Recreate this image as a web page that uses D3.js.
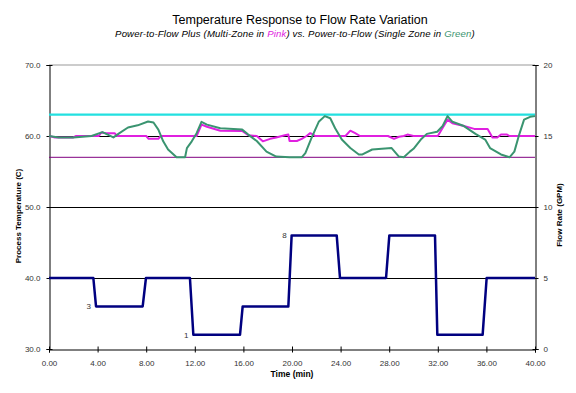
<!DOCTYPE html>
<html><head><meta charset="utf-8">
<script src="https://cdn.jsdelivr.net/npm/d3@7"></script>
<style>body{margin:0;background:#fff}svg{display:block;font-family:Arial,"Liberation Sans",sans-serif}</style>
</head><body>
<svg id="c" width="576" height="393"></svg>
<script>
const xTicks = [0,4,8,12,16,20,24,28,32,36,40];
const tempTicks = [30,40,50,60,70];
const flowTicks = [0,5,10,15,20];
const gridTemps = [40,50,60];
const upperLimit = 63;
const lowerLimit = 57;

const pinkTime = [0,0.5,2.0,2.2,4.1,4.3,4.7,5.4,5.6,8.0,8.2,9.0,9.2,12.15,12.55,13.0,14.1,15.9,16.4,17.1,17.6,18.2,18.7,19.4,19.7,19.8,20.4,20.8,21.2,21.5,21.75,21.9,24.4,24.8,25.2,25.6,27.9,28.4,28.8,29.2,29.5,30.0,32.0,32.8,33.2,34.15,35.0,36.1,36.5,36.9,37.2,37.7,37.9,40];
const pinkTemp = [60,59.8,59.8,60,60,60.5,60.4,60.4,60,60,59.6,59.6,60,60,61.6,61.3,60.75,60.7,60.1,60,59.25,59.6,59.8,60.1,60.2,59.3,59.3,59.6,60,60.4,60.2,60,60,60.75,60.4,60,60,59.6,59.9,60,60.2,60,60,62.3,61.8,61.4,61.0,61.0,59.8,59.8,60.2,60.2,60,60];

const greenTime = [0,0.8,2.0,3.5,4.4,5.3,5.8,6.5,7.3,8.15,8.6,9.0,9.4,9.8,10.5,11.2,11.35,11.75,12.15,12.55,13.0,14.1,15.9,16.4,17.1,17.9,18.7,19.8,20.8,21.1,21.6,22.2,22.7,23.15,23.55,24.1,24.8,25.5,25.8,26.6,28.2,28.8,29.2,29.7,30.0,30.6,31.1,31.95,32.4,32.8,33.2,34.15,35.1,35.9,36.3,37.2,37.9,38.3,38.7,39.1,39.6,40];
const greenTemp = [60,59.8,59.8,60,60.55,59.8,60.4,61.2,61.5,62.05,61.9,60.9,59.25,58.1,57.0,57.0,58.3,59.25,60.4,62.0,61.6,61.1,60.9,60.2,59.3,57.8,57.1,57.0,57.0,57.6,59.7,62.0,62.8,62.5,61.1,59.5,58.3,57.4,57.4,58.1,58.3,57.1,57.0,57.8,58.2,59.5,60.3,60.6,61.4,62.8,62.0,61.4,60.3,59.5,58.3,57.4,57.0,57.8,60.2,62.3,62.7,62.8];

const flowTime = [0,3.65,3.87,7.71,7.98,11.6,11.88,15.72,15.94,19.7,19.97,23.68,23.95,27.74,28.01,31.77,31.96,35.69,36.02,40];
const flowRate = [5,5,3,3,5,5,1,1,3,3,8,8,5,5,8,8,1,1,5,5];
const flowLabelIdx = [2,6,10];

const svg = d3.select('#c');
const L = 49, R = 535, T = 65, B = 349;
const x = d3.scaleLinear().domain([0,40]).range([L,R]);
const y = d3.scaleLinear().domain([30,70]).range([B,T]);
const y2 = d3.scaleLinear().domain([0,20]).range([B,T]);

svg.append('line').attr('x1',L).attr('x2',R).attr('y1',y(70)).attr('y2',y(70)).attr('stroke','#999').attr('stroke-width',1);
svg.selectAll('.g').data(gridTemps).enter().append('line')
  .attr('x1',L).attr('x2',R).attr('y1',d=>Math.round(y(d))+0.5).attr('y2',d=>Math.round(y(d))+0.5)
  .attr('stroke','#000').attr('stroke-width',1);

const fmt2 = d3.format('.2f'), fmt1 = d3.format('.1f');
const xAxis = svg.append('g').attr('transform',`translate(0,${B+0.5})`)
  .call(d3.axisBottom(x).tickValues(xTicks).tickFormat(fmt2).tickSize(3).tickPadding(8));
xAxis.selectAll('.tick line').attr('y1',-3);
const yAxis = svg.append('g').attr('transform',`translate(${L+0.5},0)`)
  .call(d3.axisLeft(y).tickValues(tempTicks).tickFormat(fmt1).tickSize(3).tickPadding(6));
yAxis.selectAll('.tick line').attr('x1',3);
const y2Axis = svg.append('g').attr('transform',`translate(${R+0.5},0)`)
  .call(d3.axisRight(y2).tickValues(flowTicks).tickSize(3).tickPadding(5));
y2Axis.selectAll('.tick line').attr('x1',-3);
[xAxis,yAxis,y2Axis].forEach(a=>{
  a.select('.domain').attr('stroke','#000');
  a.selectAll('.tick line').attr('stroke','#000');
  a.selectAll('.tick text').attr('font-size',8).attr('fill','#333').attr('font-family','Arial,"Liberation Sans",sans-serif');
});

svg.append('line').attr('x1',x(0)).attr('x2',x(40)).attr('y1',y(upperLimit)).attr('y2',y(upperLimit))
  .attr('stroke','#22E0E0').attr('stroke-width',2.2);
svg.append('line').attr('x1',x(0)).attr('x2',x(40)).attr('y1',y(lowerLimit)).attr('y2',y(lowerLimit))
  .attr('stroke','#800080').attr('stroke-width',1);

const line = (xs,ys,sy)=>d3.line().x((d,i)=>x(xs[i])).y((d,i)=>sy(ys[i]))(xs);
svg.append('path').attr('d',line(pinkTime,pinkTemp,y)).attr('fill','none').attr('stroke','#E020E0').attr('stroke-width',2).attr('stroke-linejoin','round');
svg.append('path').attr('d',line(greenTime,greenTemp,y)).attr('fill','none').attr('stroke','#3A9470').attr('stroke-width',2).attr('stroke-linejoin','round');
svg.append('path').attr('d',line(flowTime,flowRate,y2)).attr('fill','none').attr('stroke','#000080').attr('stroke-width',2.5).attr('stroke-linejoin','round');

svg.selectAll('.fl').data(flowLabelIdx).enter().append('text')
  .attr('x',i=>x(flowTime[i])-5).attr('y',i=>y2(flowRate[i])+3)
  .attr('text-anchor','end').attr('font-size',8).attr('fill','#333').text(i=>flowRate[i]);

svg.append('text').attr('x',300).attr('y',24).attr('text-anchor','middle').attr('font-size',12.5).attr('fill','#000')
  .text('Temperature Response to Flow Rate Variation');
const sub = svg.append('text').attr('x',295).attr('y',37).attr('text-anchor','middle').attr('font-size',9.6).attr('letter-spacing',0.15).attr('font-style','italic').attr('fill','#000');
sub.append('tspan').text('Power-to-Flow Plus (Multi-Zone in ');
sub.append('tspan').attr('fill','#E020E0').text('Pink');
sub.append('tspan').text(') vs. Power-to-Flow (Single Zone in ');
sub.append('tspan').attr('fill','#3A9470').text('Green');
sub.append('tspan').text(')');

svg.append('text').attr('x',292).attr('y',377).attr('text-anchor','middle').attr('font-size',8.5).attr('font-weight','bold').attr('fill','#000').text('Time (min)');
svg.append('text').attr('transform','translate(21,216) rotate(-90)').attr('text-anchor','middle').attr('font-size',8).attr('font-weight','bold').attr('fill','#000').text('Process Temperature (C)');
svg.append('text').attr('transform','translate(562,215) rotate(-90)').attr('text-anchor','middle').attr('font-size',8).attr('font-weight','bold').attr('fill','#000').text('Flow Rate (GPM)');
</script>
</body></html>
